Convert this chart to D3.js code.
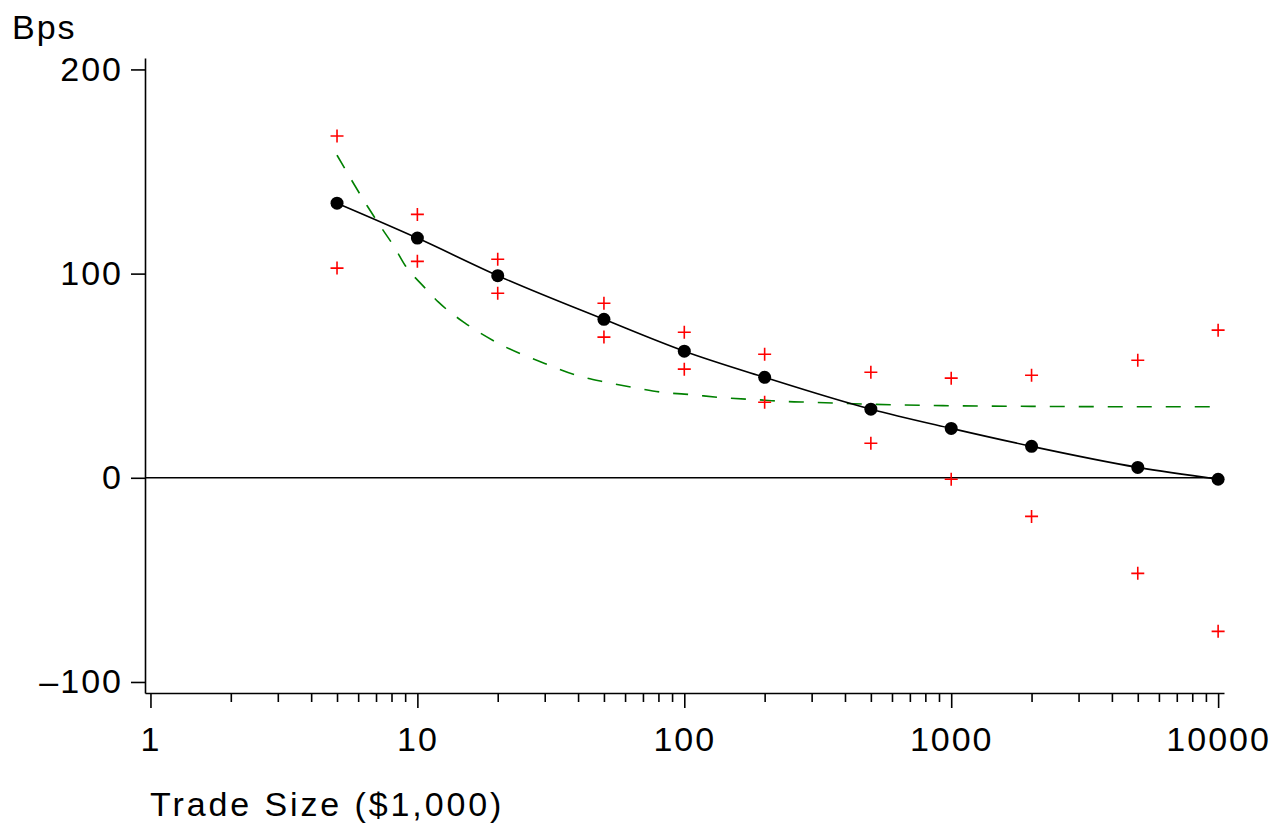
<!DOCTYPE html>
<html>
<head>
<meta charset="utf-8">
<script src="https://cdn.jsdelivr.net/npm/d3@7"></script>
<style>
  body { margin: 0; background: #fff; }
  svg text { font-family: "Liberation Sans", Arial, sans-serif; font-size: 34px; letter-spacing: 2px; fill: #000; }
</style>
</head>
<body>
<script>
// data
const sizes = [5, 10, 20, 50, 100, 200, 500, 1000, 2000, 5000, 10000];
const meanBps = [134.5, 117.4, 99, 77.6, 62, 49.2, 33.6, 24.2, 15.4, 5.1, -0.7];
const upperBps = [167.4, 129, 107, 85.5, 71.3, 60.5, 51.7, 48.8, 50.2, 57.6, 72.3];
const lowerBps = [102.7, 106, 90.4, 68.9, 53.2, 37, 16.9, -0.7, -18.9, -46.8, -75.2];

// green dashed curve, read at these trade sizes
const dashSizes = [5, 6.5, 7.2, 8.2, 9, 10.5, 12, 15, 20, 30, 40, 50, 66, 86, 100, 140, 200, 235, 300, 500, 1000, 2000, 5000, 10000];
const dashBps = [158, 133, 124, 113, 104, 94, 86, 76, 66, 56, 50, 47, 44, 41.6, 41, 39.2, 38, 37.4, 37, 36, 35.3, 35, 34.8, 34.8];

const yTicks = [-100, 0, 100, 200];
const xMajor = [1, 10, 100, 1000, 10000];
const xMinor = [];
[1, 10, 100, 1000].forEach(d => { for (let k = 2; k <= 9; k++) xMinor.push(d * k); });

let width = 1279, height = 823;

const svg = d3.select("body").append("svg")
  .attr("width", width)
  .attr("height", height);

// scales (axis lines run a little past the end ticks)
const x = d3.scaleLog().domain([0.954, 10520]).range([145, 1224]);
const y = d3.scaleLinear().domain([-105.4, 205.6]).range([693, 58]);

// y axis
const yAxis = svg.append("g")
  .attr("transform", `translate(145,0)`)
  .call(d3.axisLeft(y).tickValues(yTicks).tickSize(14).tickSizeOuter(0).tickPadding(8)
    .tickFormat(d => d < 0 ? "\u2013" + Math.abs(d) : d));

// x axis, minor then major ticks
const xAxisMinor = svg.append("g")
  .attr("transform", `translate(0,693)`)
  .call(d3.axisBottom(x).tickValues(xMinor).tickSize(9).tickSizeOuter(0).tickFormat(""));
xAxisMinor.select(".domain").remove();

const xAxis = svg.append("g")
  .attr("transform", `translate(0,693)`)
  .call(d3.axisBottom(x).tickValues(xMajor).tickSize(15).tickSizeOuter(0).tickPadding(19)
    .tickFormat(d3.format("d")));

svg.selectAll(".domain, .tick line").attr("stroke", "#000").attr("stroke-width", 1.6);
svg.selectAll(".tick text").attr("font-size", null).attr("font-family", null);

// zero line
svg.append("line")
  .attr("x1", 145).attr("x2", x(10000))
  .attr("y1", y(0)).attr("y2", y(0))
  .attr("stroke", "#000").attr("stroke-width", 1.6);

// axis titles
svg.append("text").attr("x", 12).attr("y", 39).text("Bps");
svg.append("text").attr("x", 150).attr("y", 816)
  .style("letter-spacing", "2.9px")
  .text("Trade Size ($1,000)");

// green dashed curve
const dashData = dashSizes.map((s, i) => ({ s, v: dashBps[i] }));
svg.append("path")
  .datum(dashData)
  .attr("fill", "none")
  .attr("stroke", "#008000")
  .attr("stroke-width", 1.6)
  .attr("stroke-dasharray", "15,14")
  .attr("d", d3.line().x(d => x(d.s)).y(d => y(d.v)).curve(d3.curveMonotoneX));

// fitted black curve
const meanData = sizes.map((s, i) => ({ s, v: meanBps[i] }));
svg.append("path")
  .datum(meanData)
  .attr("fill", "none")
  .attr("stroke", "#000")
  .attr("stroke-width", 1.6)
  .attr("d", d3.line().x(d => x(d.s)).y(d => y(d.v)).curve(d3.curveMonotoneX));

// red crosses
const crossData = sizes.flatMap((s, i) => [{ s, v: upperBps[i] }, { s, v: lowerBps[i] }]);
svg.selectAll(".cross")
  .data(crossData)
  .enter().append("path")
  .attr("class", "cross")
  .attr("transform", d => `translate(${x(d.s)},${y(d.v)})`)
  .attr("d", "M-6.5,0H6.5M0,-6.5V6.5")
  .attr("stroke", "#ff0000")
  .attr("stroke-width", 1.6);

// black dots
svg.selectAll(".dot")
  .data(meanData)
  .enter().append("circle")
  .attr("class", "dot")
  .attr("cx", d => x(d.s))
  .attr("cy", d => y(d.v))
  .attr("r", 6.5)
  .attr("fill", "#000");
</script>
</body>
</html>
